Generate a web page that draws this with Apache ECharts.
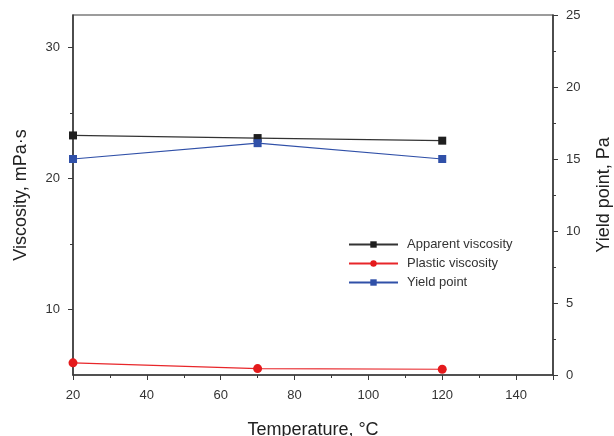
<!DOCTYPE html>
<html>
<head>
<meta charset="utf-8">
<script src="https://cdn.jsdelivr.net/npm/echarts@6/dist/echarts.min.js"></script>
<style>
  html, body { margin: 0; padding: 0; background: #fff; }
  #chart { width: 614px; height: 436px; }
</style>
</head>
<body>
<div id="chart"></div>
<script>
const temperatures = [20, 70, 120];
const apparentViscosity = [23.3, 23.1, 22.9];
const plasticViscosity = [5.93, 5.49, 5.44];
const yieldPoint = [15.0, 16.1, 15.0];

const leftMajor = [10, 20, 30];
const leftMinor = [15, 25];

const font = 'Arial, "Liberation Sans", sans-serif';
const axisColor = '#3a3a3a';
const textColor = '#333';

const chart = echarts.init(document.getElementById('chart'));

const pairs = (ys) => temperatures.map((t, i) => [t, ys[i]]);

chart.setOption({
  animation: false,
  textStyle: { fontFamily: font },
  grid: {
    left: 73, right: 61, top: 15, bottom: 61,
    containLabel: false,
    outerBoundsMode: 'none',
    show: true, borderColor: axisColor, borderWidth: 1.2
  },
  legend: {
    orient: 'vertical',
    left: 348,
    top: 238,
    padding: 0,
    itemWidth: 49,
    itemHeight: 8,
    itemGap: 6,
    textStyle: { fontSize: 13, color: textColor, fontFamily: font, padding: [0, 0, 0, 4] },
    data: ['Apparent viscosity', 'Plastic viscosity', 'Yield point']
  },
  xAxis: {
    type: 'value',
    min: 20,
    max: 150,
    interval: 20,
    name: 'Temperature, °C',
    nameLocation: 'middle',
    nameGap: 46,
    nameTextStyle: { fontSize: 18, color: '#222', fontFamily: font },
    axisLine: { lineStyle: { color: axisColor, width: 1.5 } },
    axisTick: { show: true, length: 5, inside: false, lineStyle: { color: axisColor } },
    minorTick: { show: true, splitNumber: 2, length: 3, lineStyle: { color: axisColor } },
    axisLabel: {
      color: textColor, fontSize: 13, margin: 14,
      formatter: (v) => (v === 150 ? '' : v)
    },
    splitLine: { show: false }
  },
  yAxis: [
    {
      type: 'value',
      position: 'left',
      min: 5,
      max: 32.5,
      name: 'Viscosity, mPa·s',
      nameLocation: 'middle',
      nameGap: 43,
      nameTextStyle: { fontSize: 18, color: '#222', fontFamily: font },
      axisLine: { show: true, lineStyle: { color: axisColor, width: 1.5 } },
      axisTick: { show: true, length: 5, customValues: leftMajor, lineStyle: { color: axisColor } },
      axisLabel: { color: textColor, fontSize: 13, margin: 13, customValues: leftMajor },
      splitLine: { show: false }
    },
    {
      type: 'value',
      position: 'right',
      min: 0,
      max: 25,
      interval: 5,
      name: 'Yield point, Pa',
      nameLocation: 'middle',
      nameGap: 42,
      nameRotate: 90,
      nameTextStyle: { fontSize: 18, color: '#222', fontFamily: font },
      axisLine: { show: true, lineStyle: { color: axisColor, width: 1.5 } },
      axisTick: { show: true, length: 5, lineStyle: { color: axisColor } },
      minorTick: { show: true, splitNumber: 2, length: 3, lineStyle: { color: axisColor } },
      axisLabel: { color: textColor, fontSize: 13, margin: 13 },
      splitLine: { show: false }
    },
    {
      type: 'value',
      position: 'left',
      min: 5,
      max: 32.5,
      axisLine: { show: false },
      axisTick: { show: true, length: 3, customValues: leftMinor, lineStyle: { color: axisColor } },
      axisLabel: { show: false },
      splitLine: { show: false }
    }
  ],
  series: [
    {
      name: 'Apparent viscosity',
      type: 'line',
      yAxisIndex: 0,
      data: pairs(apparentViscosity),
      symbol: 'rect',
      symbolSize: 8,
      color: '#1f1f1f',
      lineStyle: { width: 1.2, color: '#333' },
      itemStyle: { color: '#1f1f1f' }
    },
    {
      name: 'Plastic viscosity',
      type: 'line',
      yAxisIndex: 0,
      data: pairs(plasticViscosity),
      symbol: 'circle',
      symbolSize: 9,
      color: '#e41a1c',
      lineStyle: { width: 1.2, color: '#e8262a' },
      itemStyle: { color: '#e41a1c' }
    },
    {
      name: 'Yield point',
      type: 'line',
      yAxisIndex: 1,
      data: pairs(yieldPoint),
      symbol: 'rect',
      symbolSize: 8,
      color: '#3050a8',
      lineStyle: { width: 1.2, color: '#3050a8' },
      itemStyle: { color: '#3050a8' }
    }
  ]
});
</script>
</body>
</html>
